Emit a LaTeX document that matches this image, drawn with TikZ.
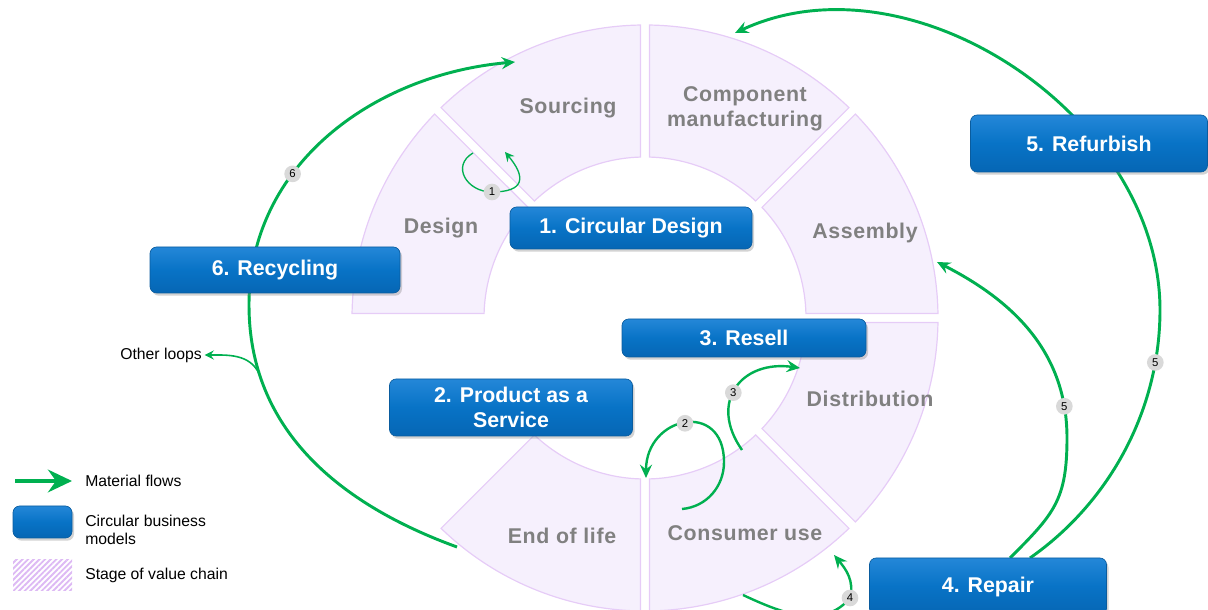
\documentclass[tikz,border=0pt]{standalone}
\usepackage{fontspec}
\setmainfont{Liberation Sans}
\usetikzlibrary{arrows.meta,calc,shadows,patterns.meta}
\definecolor{flowgreen}{HTML}{00B050}
\definecolor{stagefill}{HTML}{F6F0FD}
\definecolor{stageline}{HTML}{E6CCF7}
\definecolor{stagegray}{HTML}{808080}
\definecolor{numgray}{HTML}{D9D9D9}
\definecolor{hatch}{HTML}{DDB9F4}
\definecolor{bmtop}{HTML}{2487D8}
\definecolor{bmmid}{HTML}{0873C6}
\definecolor{bmbot}{HTML}{0666B4}
\definecolor{bmedge}{HTML}{0A5C9E}
\begin{document}
\begin{tikzpicture}[x=0.75pt,y=0.75pt,
stage/.style={fill=stagefill,draw=stageline,line width=0.9pt},
stagetext/.style={text=stagegray,align=center,font={\fontsize{16}{18.75}\selectfont\bfseries\addfontfeatures{LetterSpace=3}}},
bizmodel/.style={rounded corners=5pt,top color=bmtop,bottom color=bmbot,middle color=bmmid,draw=bmedge,line width=.5pt,text=white,align=center,inner sep=0pt,font={\fontsize{16}{18.75}\selectfont\bfseries},drop shadow={shadow xshift=1.5pt,shadow yshift=-2pt,opacity=.35}},
loopnum/.style={circle,fill=numgray,inner sep=0pt,minimum size=12.5pt,text=black,font={\fontsize{8.5}{8.5}\selectfont}},
flow/.style={draw=flowgreen,line width=2.2pt,-{Stealth[length=10pt,width=9pt,inset=3.5pt]}},
thinflow/.style={draw=flowgreen,line width=1pt,-{Stealth[length=7pt,width=7pt,inset=2.5pt]}},
legendtext/.style={anchor=west,inner sep=0pt,align=left,font={\fontsize{11.8}{14}\selectfont}}]
\useasboundingbox (0,0) rectangle (1208,610); % page = reference frame
\coordinate (ctr) at (645,292);

\foreach \a/\b in {90/135,45/90,0/45,-45/0,-90/-45,-135/-90,135/180}
  \draw[stage] ($(ctr)+({\a+1.6}:120.75pt)$) arc[start angle=\a+1.6,end angle=\b-1.6,radius=120.75pt]
    -- ($(ctr)+({\b-0.88}:219.75pt)$) arc[start angle=\b-0.88,end angle=\a+0.88,radius=219.75pt] -- cycle;

\draw (568,502) node[stagetext] (src) {Sourcing};
\draw (745,501.5) node[stagetext] (cmp) {Component\\manufacturing};
\draw (865,377) node[stagetext] (asm) {Assembly};
\draw (870,211) node[stagetext] (dst) {Distribution};
\draw (745,77) node[stagetext] (use) {Consumer use};
\draw (562,74) node[stagetext] (eol) {End of life};
\draw (441,382) node[stagetext] (dsg) {Design};
\draw (161,255) node[inner sep=2pt,font={\fontsize{11.8}{14}\selectfont}] (oth) {Other loops};

\coordinate (s1) at (473,457);
\coordinate (n1) at (492,418);
\coordinate (t1) at (505,458);
\coordinate (s2) at (682,101);
\coordinate (r2) at (724,148);
\coordinate (t2) at (646,132);
\coordinate (s3) at (742,160);
\coordinate (t3) at (800,242);
\coordinate (s4) at (743,15);
\coordinate (m4) at (850,12);
\coordinate (t4) at (834,55);
\coordinate (s5a) at (1010,52);
\coordinate (r5a) at (1067,172);
\coordinate (t5a) at (937,348);
\coordinate (s5b) at (1030,52);
\coordinate (r5b) at (1160,300);
\coordinate (t5b) at (735,577);
\coordinate (s6) at (457,63);
\coordinate (l6) at (249,305);
\coordinate (t6) at (515,548);

\draw[thinflow] (s1) to[out=210,in=180,looseness=1.5] (n1) node[loopnum] {1} to[out=0,in=-50,looseness=2] (t1);
\draw[flow,line width=1.8pt] (s2) to[out=5,in=-90] (r2) to[out=90,in=90,looseness=2] node[loopnum,pos=.5] {2} (t2);
\draw[flow,line width=1.8pt] (s3) to[out=125,in=172,looseness=1.5] node[loopnum,pos=.45] {3} (t3);
\draw[flow,line width=1.8pt] (s4) to[out=-25,in=-130] (m4) node[loopnum] {4} to[out=75,in=-50] (t4);
\draw[flow] (s5a) to[out=45,in=-90,looseness=1.2] (r5a) to[out=90,in=-27] node[loopnum,pos=.13] {5} (t5a);
\draw[flow] (s5b) to[out=35,in=-90,looseness=.9] node[loopnum,pos=.82] {5} (r5b) to[out=90,in=25,looseness=.98] (t5b);
\draw[flow] (s6) to[out=160,in=-90] coordinate[pos=.8] (ol) (l6) to[out=90,in=185] node[loopnum,pos=.36] {6} (t6);
\draw[thinflow,line width=1.2pt] (ol) to[out=115,in=0] (oth.east);

\draw (631,382) node[bizmodel,minimum width=181.5pt,minimum height=31.5pt] (cd) {1. Circular Design};
\draw (511,202.5) node[bizmodel,minimum width=182.25pt,minimum height=42.75pt] (paas) {2. Product as a\\Service};
\draw (744,272) node[bizmodel,minimum width=183pt,minimum height=28.5pt] (rsl) {3. Resell};
\draw (988,23.5) node[bizmodel,minimum width=177.75pt,minimum height=42.75pt] (rep) {4. Repair};
\draw (1089,466.5) node[bizmodel,minimum width=177.75pt,minimum height=42.75pt] (rfb) {5. Refurbish};
\draw (275,340) node[bizmodel,minimum width=187.5pt,minimum height=34.5pt] (rcy) {6. Recycling};

\coordinate (lg0) at (15,129);
\coordinate (lg1) at (72,129);
\draw[flow,line width=3pt,-{Stealth[length=18pt,width=17pt,inset=6pt]}] (lg0) -- (lg1);
\draw (42.5,88) node[bizmodel,minimum width=44.25pt,minimum height=24pt] (lgbox) {};
\draw (42.5,34.5) node[pattern={Lines[angle=45,distance=3pt,line width=1.4pt]},pattern color=hatch,minimum width=44.25pt,minimum height=23.25pt,inner sep=0pt] (lghatch) {};
\draw (85,129) node[legendtext] (lgflow) {Material flows};
\draw (85,80) node[legendtext] (lgbm) {Circular business\\models};
\draw (85,35) node[legendtext] (lgstage) {Stage of value chain};
\end{tikzpicture}
\end{document}
